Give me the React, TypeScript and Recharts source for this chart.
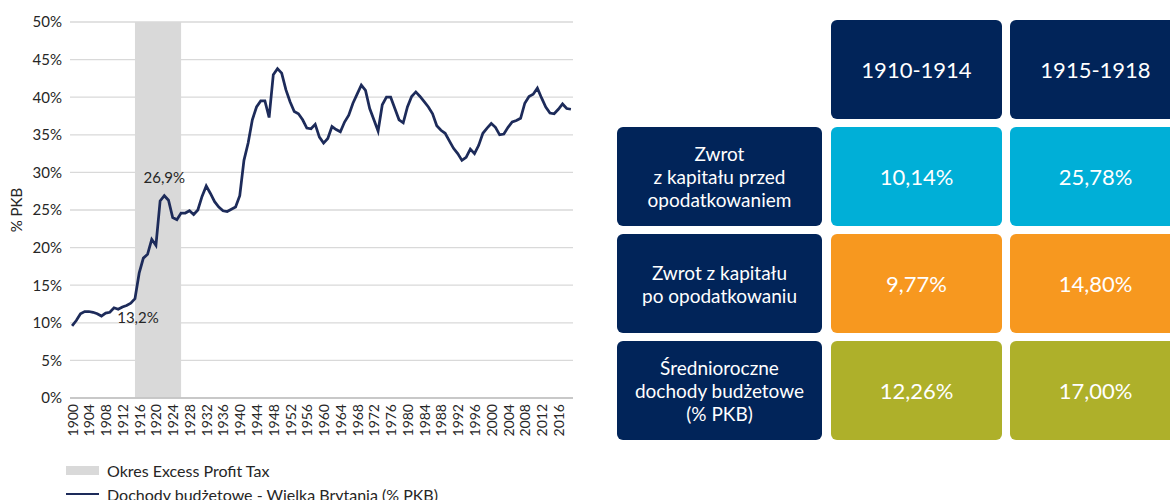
import React from "react";
import {
  ComposedChart,
  Line,
  Area,
  XAxis,
  YAxis,
  CartesianGrid,
  ReferenceDot,
} from "recharts";

// years on the category axis
const years = Array.from({ length: 120 }, (_, i) => 1900 + i);

// budget revenue, UK, % of GDP
const revenue = [
  9.6, 10.3, 11.2, 11.5, 11.5, 11.4, 11.2, 10.9, 11.3, 11.4,
  12.0, 11.8, 12.1, 12.3, 12.6, 13.2, 16.6, 18.6, 19.1, 21.1,
  20.3, 26.2, 26.9, 26.3, 24.0, 23.7, 24.6, 24.6, 24.9, 24.4,
  25.0, 26.8, 28.2, 27.2, 26.1, 25.4, 24.9, 24.8, 25.1, 25.4,
  26.9, 31.6, 33.9, 37.0, 38.7, 39.5, 39.5, 37.3, 43.0, 43.8,
  43.2, 41.0, 39.4, 38.1, 37.8, 37.0, 35.9, 35.8, 36.4, 34.7,
  33.9, 34.5, 36.1, 35.7, 35.4, 36.7, 37.6, 39.2, 40.4, 41.6,
  40.9, 38.5, 37.0, 35.5, 39.0, 40.0, 40.0, 38.5, 37.0, 36.6,
  38.7, 40.1, 40.7, 40.1, 39.4, 38.7, 37.8, 36.2, 35.6, 35.2,
  34.2, 33.2, 32.5, 31.6, 32.0, 33.1, 32.5, 33.6, 35.2, 35.9,
  36.5, 36.0, 35.0, 35.1, 36.0, 36.7, 36.9, 37.2, 39.2, 40.1,
  40.4, 41.2, 39.9, 38.7, 37.9, 37.8, 38.4, 39.1, 38.5, 38.4,
];

// Excess Profit Tax period (shaded)
const taxPeriod = [1915, 1926];
const yTicks = [0, 5, 10, 15, 20, 25, 30, 35, 40, 45, 50];
const annotatedYears = [1915, 1922];

const seriesNames = [
  "Okres Excess Profit Tax",
  "Dochody budżetowe - Wielka Brytania (% PKB)",
];

// table on the right
const periods = ["1910-1914", "1915-1918"];
const rowLabels = [
  ["Zwrot", "z kapitału przed", "opodatkowaniem"],
  ["Zwrot z kapitału", "po opodatkowaniu"],
  ["Średnioroczne", "dochody budżetowe", "(% PKB)"],
];
const rowValues = [
  ["10,14%", "25,78%"],
  ["9,77%", "14,80%"],
  ["12,26%", "17,00%"],
];
const rowColors = ["#00afd7", "#f7981f", "#aeb02a"];

const NAVY = "#012459";
const LINE = "#1d2b5a";
const FONT = "Lato, 'Open Sans', sans-serif";

const data = years.map((year, i) => ({
  year,
  revenue: revenue[i],
  shade: year >= taxPeriod[0] && year <= taxPeriod[1] ? 50 : null,
}));

const fmt = (v: number) => `${v.toFixed(1).replace(".", ",")}%`;

const YearTick = (props: any) => {
  const { x, y, payload } = props;
  return (
    <text
      x={x}
      y={y - 2}
      transform={`rotate(-90 ${x} ${y - 2})`}
      textAnchor="end"
      dominantBaseline="central"
      fontSize={14}
      fontFamily={FONT}
      fill="#262626"
    >
      {payload.value}
    </text>
  );
};

function Table() {
  const colX = [831, 1010];
  const rowY = [127, 234, 341];
  const w = 171;
  const h = 99;
  const box = (
    left: number,
    top: number,
    width: number,
    bg: string,
    content: React.ReactNode,
    key: string,
    fontSize = 22
  ) => (
    <div
      key={key}
      style={{
        position: "absolute",
        left,
        top,
        width,
        height: h,
        background: bg,
        borderRadius: 6,
        color: "#fff",
        fontFamily: FONT,
        fontSize,
        lineHeight: "23px",
        display: "flex",
        alignItems: "center",
        justifyContent: "center",
        textAlign: "center",
        flexDirection: "column",
      }}
    >
      {content}
    </div>
  );
  return (
    <>
      {periods.map((p, j) => box(colX[j], 20, w, NAVY, p, `h${j}`))}
      {rowLabels.map((lines, i) =>
        box(
          617,
          rowY[i],
          205,
          NAVY,
          lines.map((l, k) => <div key={k}>{l}</div>),
          `l${i}`,
          19
        )
      )}
      {rowValues.map((vals, i) =>
        vals.map((v, j) => box(colX[j], rowY[i], w, rowColors[i], v, `v${i}${j}`))
      )}
    </>
  );
}

export default function App() {
  return (
    <div
      style={{
        position: "absolute",
        left: 0,
        top: 0,
        width: 1170,
        height: 500,
        overflow: "hidden",
        background: "#fff",
      }}
    >
      <ComposedChart
        width={600}
        height={450}
        data={data}
        margin={{ top: 22, right: 27, left: 0, bottom: 0 }}
      >
        <CartesianGrid vertical={false} stroke="#d9d9d9" strokeWidth={1.3} />
        <XAxis
          dataKey="year"
          scale="band"
          interval={3}
          tickLine={false}
          axisLine={{ stroke: "#bfbfbf", strokeWidth: 1.3 }}
          tick={<YearTick />}
          height={52}
        />
        <YAxis
          width={70}
          domain={[0, 50]}
          ticks={yTicks}
          tickFormatter={(v: number) => `${v}%`}
          axisLine={false}
          tickLine={false}
          tick={{ fontSize: 15, fill: "#262626", fontFamily: FONT }}
          label={{
            value: "% PKB",
            angle: -90,
            position: "insideLeft",
            offset: 17,
            style: { fontSize: 15, fill: "#262626", fontFamily: FONT, textAnchor: "middle" },
          }}
        />
        <Area
          dataKey="shade"
          name={seriesNames[0]}
          type="linear"
          fill="#d9d9d9"
          fillOpacity={1}
          stroke="none"
          isAnimationActive={false}
          dot={false}
          activeDot={false}
        />
        <Line
          dataKey="revenue"
          name={seriesNames[1]}
          type="linear"
          stroke={LINE}
          strokeWidth={2.75}
          dot={false}
          isAnimationActive={false}
        />
        {annotatedYears.map((yr) => {
          const v = revenue[years.indexOf(yr)];
          const below = yr === annotatedYears[0];
          return (
            <ReferenceDot
              key={yr}
              x={yr}
              y={v}
              r={0}
              stroke="none"
              fill="none"
              label={{
                value: fmt(v),
                position: below ? "bottom" : "top",
                offset: below ? 14 : 13,
                dx: below ? 3 : 0,
                style: { fontSize: 15, fill: "#262626", fontFamily: FONT },
              }}
            />
          );
        })}
      </ComposedChart>

      {/* legend */}
      <div style={{ position: "absolute", left: 66, top: 459, fontFamily: FONT, fontSize: 16, color: "#262626" }}>
        <div style={{ display: "flex", alignItems: "center", height: 22, marginBottom: 2 }}>
          <span style={{ display: "inline-block", width: 33, height: 9, background: "#d9d9d9", marginRight: 8 }} />
          {seriesNames[0]}
        </div>
        <div style={{ display: "flex", alignItems: "center", height: 22 }}>
          <span style={{ display: "inline-block", width: 33, height: 2.5, background: LINE, marginRight: 8 }} />
          {seriesNames[1]}
        </div>
      </div>

      <Table />
    </div>
  );
}
